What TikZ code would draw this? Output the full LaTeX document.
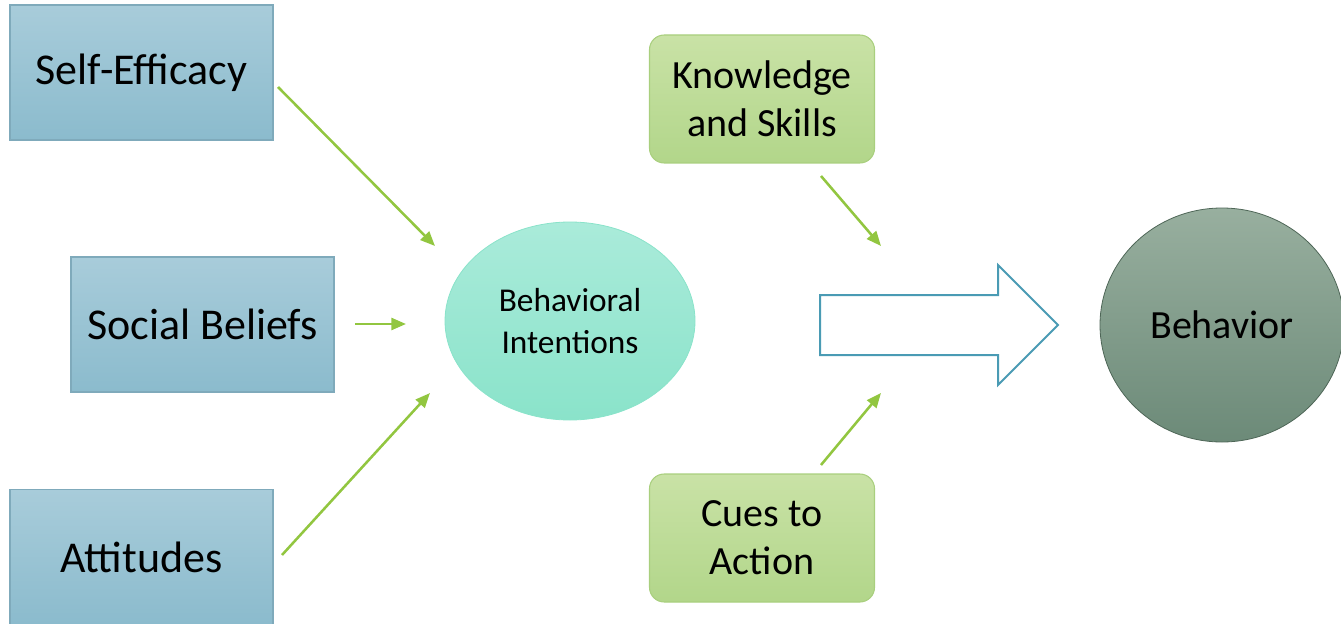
\documentclass[tikz,border=0pt]{standalone}
\usepackage{fontspec}
\setmainfont{Carlito}
\usetikzlibrary{shapes.geometric, arrows.meta}
\usetikzlibrary{positioning}

\definecolor{boxtop}{HTML}{A8CCDA}
\definecolor{boxbot}{HTML}{8BBBCD}
\definecolor{boxline}{HTML}{7FAABB}
\definecolor{inttop}{HTML}{AAEBDA}
\definecolor{intbot}{HTML}{8AE3CA}
\definecolor{greentop}{HTML}{C9E2A6}
\definecolor{greenbot}{HTML}{B2D68A}
\definecolor{greenline}{HTML}{A9CF7E}
\definecolor{behtop}{HTML}{98AF9F}
\definecolor{behbot}{HTML}{6C8A78}
\definecolor{behline}{HTML}{4E6657}
\definecolor{linkgreen}{HTML}{92C640}
\definecolor{bigline}{HTML}{4A9BB4}

\tikzset{
  factor/.style={draw=boxline, line width=0.8pt, top color=boxtop, bottom color=boxbot,
    minimum width=197.25pt, minimum height=101.25pt, inner sep=0pt,
    font=\fontsize{33}{40}\selectfont},
  modbox/.style={draw=greenline, line width=0.8pt, top color=greentop, bottom color=greenbot,
    rounded corners=11pt, minimum width=168.75pt, minimum height=96pt, inner sep=0pt,
    align=center, font=\fontsize{30}{36}\selectfont},
  link/.style={draw=linkgreen, line width=1.9pt, -{Triangle[length=11pt,width=9pt]}}
}

\begin{document}
\begin{tikzpicture}[x=0.75pt,y=0.75pt,yscale=-1,xscale=1]
  \useasboundingbox (0,0) rectangle (1341,624);

  % left factors
  \node[factor] (eff) at (141.5,72.5) {Self-Efficacy};
  \node[factor] (soc) at (202.5,324.5) {Social Beliefs};
  \node[factor] (att) at (141.5,557) {Attitudes};

  % intentions
  \node[ellipse, draw=intbot, line width=0.6pt, top color=inttop, bottom color=intbot,
    minimum width=187.5pt, minimum height=148.5pt, inner sep=0pt, align=center,
    font=\fontsize{25}{31.5}\selectfont] (int) at (570,321) {Behavioral\\Intentions};

  % moderators
  \node[modbox] (know) at (762,99) {Knowledge\\and Skills};
  \node[modbox] (cues) at (762,538) {Cues to\\Action};

  % behavior
  \node[ellipse, draw=behline, line width=0.6pt, top color=behtop, bottom color=behbot,
    minimum width=183pt, minimum height=175.5pt, inner sep=0pt,
    font=\fontsize{30}{36}\selectfont] (beh) at (1222,325) {Behavior};

  % big arrow
  \coordinate (bigtail) at (820,325);
  \coordinate (bigtip) at (1058,325);
  \draw[bigline, line width=1.5pt, fill=white, line join=miter]
    (bigtail) ++(0,-30) -- ++(178,0) -- ++(0,-30) -- (bigtip)
    -- ++(-60,60) -- ++(0,-30) -- ++(-178,0) -- cycle;

  % connector ends
  \coordinate (effout) at (278,87);
  \coordinate (effin) at (435,246);
  \coordinate (socout) at (355,324);
  \coordinate (socin) at (406,324);
  \coordinate (attout) at (282,555);
  \coordinate (attin) at (430,393);
  \coordinate (knowout) at (821,176);
  \coordinate (knowin) at (881,246);
  \coordinate (cuesout) at (821,465);
  \coordinate (cuesin) at (881,393);

  \draw[link] (effout) -- (effin);
  \draw[link] (socout) -- (socin);
  \draw[link] (attout) -- (attin);
  \draw[link] (knowout) -- (knowin);
  \draw[link] (cuesout) -- (cuesin);

\end{tikzpicture}
\end{document}
